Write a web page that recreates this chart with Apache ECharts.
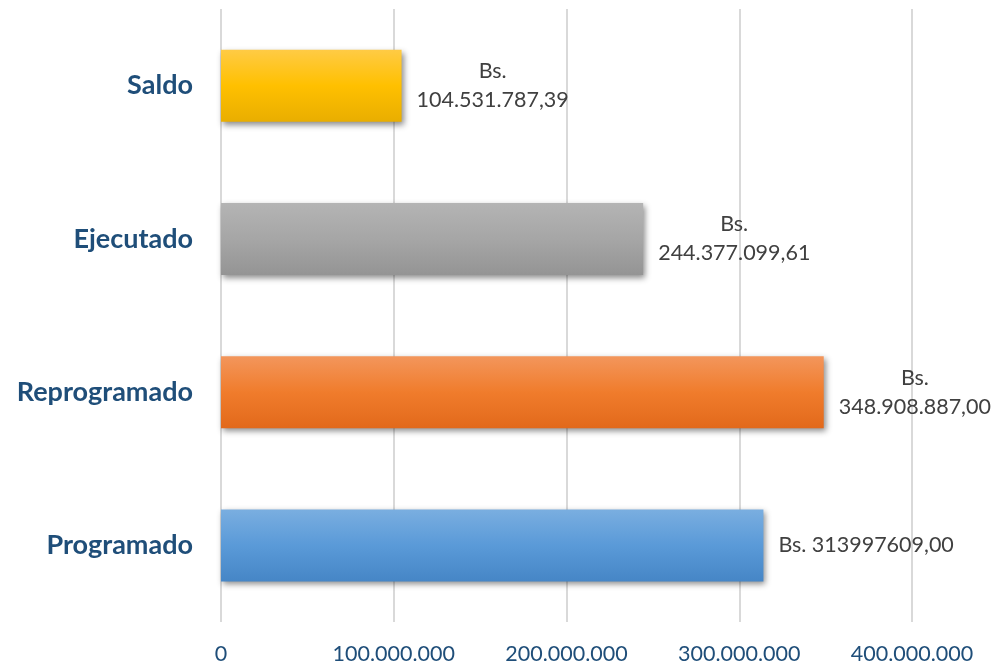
<!DOCTYPE html>
<html>
<head>
<meta charset="utf-8">
<script src="https://cdn.jsdelivr.net/npm/echarts@6/dist/echarts.min.js"></script>
<style>
  html, body { margin: 0; padding: 0; background: #fff; }
  #chart { width: 995px; height: 666px; }
</style>
</head>
<body>
<div id="chart"></div>
<script>
// data, bottom to top
const categories = ['Programado', 'Reprogramado', 'Ejecutado', 'Saldo']
const values = [313997609.00, 348908887.00, 244377099.61, 104531787.39]
const labelTexts = [
  ['Bs. 313997609,00'],
  ['Bs.', '348.908.887,00'],
  ['Bs.', '244.377.099,61'],
  ['Bs.', '104.531.787,39']
]
const xTicks = ['0', '100.000.000', '200.000.000', '300.000.000', '400.000.000']

// top, mid, bottom of each bar gradient
const barColors = [
  ['#7aaee0', '#5a9ad8', '#4686c6'],
  ['#f3965c', '#f07c2c', '#e2691b'],
  ['#b4b4b4', '#a6a6a6', '#949494'],
  ['#ffcb45', '#ffc000', '#e9ae00']
]

const font = 'Lato, "Open Sans", sans-serif'

const chart = echarts.init(document.getElementById('chart'))

chart.setOption({
  animation: false,
  grid: {
    left: 221,
    right: 83,
    top: 9,
    bottom: 44,
    containLabel: false
  },
  xAxis: {
    type: 'value',
    min: 0,
    max: 400000000,
    interval: 100000000,
    axisLine: { show: false },
    axisTick: { show: false },
    axisLabel: {
      margin: 21,
      color: '#1f4e79',
      fontSize: 21.5,
      fontFamily: font,
      formatter: function(v) {
        return xTicks[Math.round(v / 100000000)]
      }
    },
    splitLine: {
      lineStyle: { color: '#d9d9d9', width: 2 }
    }
  },
  yAxis: {
    type: 'category',
    data: categories,
    axisLine: { show: false },
    axisTick: { show: false },
    axisLabel: {
      margin: 28,
      color: '#1f4e79',
      fontSize: 27,
      fontWeight: 'bold',
      fontFamily: font
    }
  },
  series: [{
    type: 'bar',
    barWidth: 72,
    data: values.map(function(v, i) {
      const c = barColors[i]
      return {
        value: v,
        itemStyle: {
          color: new echarts.graphic.LinearGradient(0, 0, 0, 1, [
            { offset: 0, color: c[0] },
            { offset: 0.5, color: c[1] },
            { offset: 1, color: c[2] }
          ]),
          shadowColor: 'rgba(0,0,0,0.45)',
          shadowBlur: 6,
          shadowOffsetX: 2,
          shadowOffsetY: 3
        },
        label: {
          show: true,
          position: 'right',
          distance: 15,
          formatter: labelTexts[i].map(function(t) { return '{a|' + t + '}' }).join('\n'),
          rich: {
            a: {
              align: 'center',
              color: '#404040',
              fontSize: 21.5,
              fontFamily: font,
              lineHeight: 29
            }
          }
        }
      }
    })
  }]
})
</script>
</body>
</html>
